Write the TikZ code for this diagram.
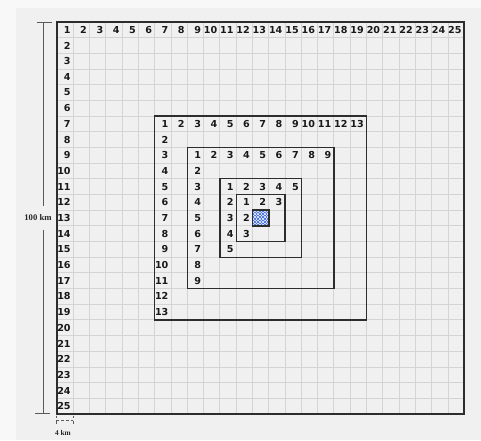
\documentclass[tikz,border=0pt]{standalone}
\usepackage{fontspec}
\newfontfamily\lblfont{DejaVu Sans}
\newfontfamily\dimfont{Liberation Serif}
\definecolor{bgpanel}{RGB}{240,240,240}
\definecolor{bgouter}{RGB}{248,248,248}
\definecolor{gridc}{RGB}{212,212,212}
\definecolor{boxc}{RGB}{45,45,45}
\definecolor{txtc}{RGB}{25,25,25}
\definecolor{dimc}{RGB}{90,90,90}
\definecolor{hatchc}{RGB}{85,120,225}
\definecolor{hatchbg}{RGB}{205,218,250}
\begin{document}
\begin{tikzpicture}[x=0.75pt,y=-0.75pt,
 lbl/.style={font=\lblfont\bfseries\fontsize{7.2}{8}\selectfont, text=txtc, anchor=east, inner sep=0pt},
 gridline/.style={draw=gridc, line width=0.7pt},
 sqbox/.style={draw=boxc, line width=1pt},
 centrebox/.style={draw=boxc, line width=1.3pt},
 outerbox/.style={draw=boxc, line width=1.4pt},
 dimline/.style={draw=dimc, line width=0.6pt},
 dimdash/.style={draw=dimc, line width=0.6pt, dash pattern=on 2.2pt off 1.6pt},
 dimtxt/.style={font=\dimfont\bfseries\fontsize{6.5}{7}\selectfont, text=black!85, inner sep=0pt}]
\def\cw{16.29}\def\rh{15.68}\def\gx{57}\def\gy{22}
\fill[bgouter] (0,0) rectangle (481,440);
\fill[bgpanel] (16,8) rectangle (481,440);
\useasboundingbox (0,0) rectangle (481,440);
% grid
\foreach \i in {1,...,24} {
  \draw[gridline] ({\gx+\i*\cw},\gy) -- ({\gx+\i*\cw},{\gy+25*\rh});
  \draw[gridline] (\gx,{\gy+\i*\rh}) -- ({\gx+25*\cw},{\gy+\i*\rh});
}
% centre cell (fine checkerboard)
\fill[hatchbg] ({\gx+12*\cw},{\gy+12*\rh}) rectangle ({\gx+13*\cw},{\gy+13*\rh});
\foreach \a in {0,...,9} {
  \foreach \b in {0,...,9} {
    \pgfmathtruncatemacro{\chkpar}{mod(\a+\b,2)}
    \ifnum\chkpar=0
      \fill[hatchc] ({\gx+12*\cw+\a*\cw/10},{\gy+12*\rh+\b*\rh/10}) rectangle ({\gx+12*\cw+(\a+1)*\cw/10},{\gy+12*\rh+(\b+1)*\rh/10});
    \fi
  }
}
\draw[centrebox] ({\gx+12*\cw},{\gy+12*\rh}) rectangle ({\gx+13*\cw},{\gy+13*\rh});
% squares and labels
\foreach \o/\n/\nm in {1/25/o,7/13/a,9/9/b,11/5/c,12/3/d} {
  \foreach \k in {1,...,\n} {
    \node[lbl] (\nm t\k) at ({\gx+(\o+\k-1)*\cw-2.4},{\gy+(\o-0.5)*\rh}) {\k};
  }
  \foreach \k in {2,...,\n} {
    \node[lbl] (\nm l\k) at ({\gx+\o*\cw-2.4},{\gy+(\o+\k-1.5)*\rh}) {\k};
  }
  \draw[sqbox] ({\gx+(\o-1)*\cw},{\gy+(\o-1)*\rh}) rectangle ({\gx+(\o-1+\n)*\cw},{\gy+(\o-1+\n)*\rh});
}
\draw[outerbox] (\gx,\gy) rectangle ({\gx+25*\cw},{\gy+25*\rh});
% vertical dimension
\coordinate (vt) at (43,22);
\coordinate (vb) at (43,413.5);
\coordinate (v1) at (43,206);
\coordinate (v2) at (43,229.5);
\coordinate (vtl) at (36.5,22);
\coordinate (vtr) at (51.5,22);
\coordinate (vbl) at (35,413.5);
\coordinate (vbr) at (50,413.5);
\node[dimtxt] (dimv) at (38,218) {100 km};
\draw[dimline] (vt) -- (v1);
\draw[dimline] (v2) -- (vb);
\draw[dimline] (vtl) -- (vtr);
\draw[dimline] (vbl) -- (vbr);
% horizontal dimension
\coordinate (hl) at (56,420.5);
\coordinate (hr) at (73.3,420.5);
\coordinate (hlt) at (56,415.5);
\coordinate (hlb) at (56,425.5);
\coordinate (hrt) at (73.3,415.5);
\coordinate (hrb) at (73.3,425.5);
\draw[dimdash] (hl) -- (hr);
\draw[dimdash] (hlt) -- (hlb);
\draw[dimdash] (hrt) -- (hrb);
\node[dimtxt, font=\dimfont\bfseries\fontsize{5.5}{6}\selectfont] (dimh) at (63,432.5) {4 km};
\end{tikzpicture}
\end{document}
